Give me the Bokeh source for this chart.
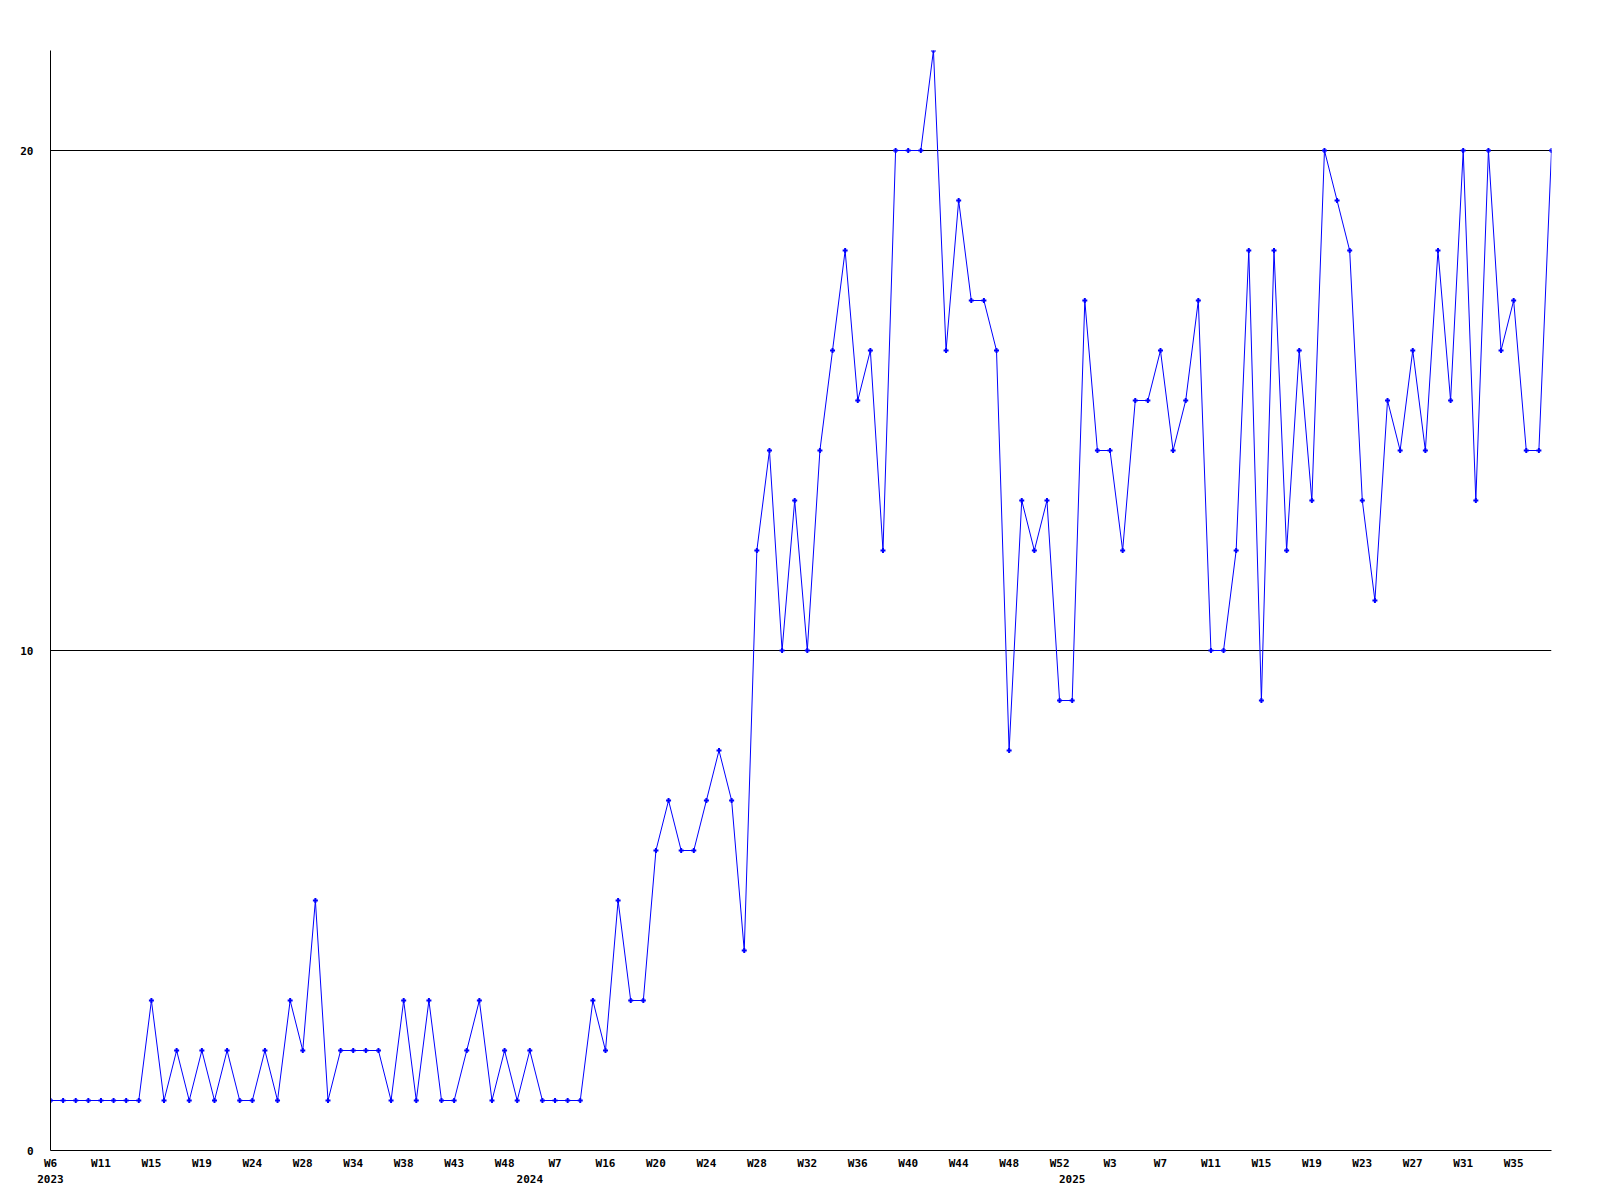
from bokeh.plotting import figure
from bokeh.models import LinearAxis, FixedTicker, Range1d
from bokeh.embed import file_html
from bokeh.resources import INLINE

# Weekly counts (one value per sample, in order)
values = [
    1, 1, 1, 1, 1, 1, 1, 1, 3, 1,
    2, 1, 2, 1, 2, 1, 1, 2, 1, 3,
    2, 5, 1, 2, 2, 2, 2, 1, 3, 1,
    3, 1, 1, 2, 3, 1, 2, 1, 2, 1,
    1, 1, 1, 3, 2, 5, 3, 3, 6, 7,
    6, 6, 7, 8, 7, 4, 12, 14, 10, 13,
    10, 14, 16, 18, 15, 16, 12, 20, 20, 20,
    22, 16, 19, 17, 17, 16, 8, 13, 12, 13,
    9, 9, 17, 14, 14, 12, 15, 15, 16, 14,
    15, 17, 10, 10, 12, 18, 9, 18, 12, 16,
    13, 20, 19, 18, 13, 11, 15, 14, 16, 14,
    18, 15, 20, 13, 20, 16, 17, 14, 14, 20,
]
x_idx = list(range(len(values)))

# Week tick labels (every 4th sample)
week_tick_idx = list(range(0, 120, 4))
week_labels = [
    "W6", "W11", "W15", "W19", "W24", "W28", "W34", "W38", "W43", "W48",
    "W7", "W16", "W20", "W24", "W28", "W32", "W36", "W40", "W44", "W48",
    "W52", "W3", "W7", "W11", "W15", "W19", "W23", "W27", "W31", "W35",
]
# Year labels
year_tick_idx = [0, 38, 81]
year_labels = ["2023", "2024", "2025"]

y_ticks = [0, 10, 20]

FONT = "DejaVu Sans Mono"

p = figure(
    width=1568, height=1192,
    x_range=Range1d(0, len(values) - 1),
    y_range=Range1d(0, 22),
    output_backend="svg", toolbar_location=None,
    min_border_left=50, min_border_top=50, min_border_right=17, min_border_bottom=42,
)
p.outline_line_color = None
p.background_fill_color = "white"
p.border_fill_color = "white"

p.xgrid.grid_line_color = None
p.ygrid.grid_line_color = "black"
p.ygrid.grid_line_width = 1

# y axis
p.yaxis.ticker = FixedTicker(ticks=y_ticks, minor_ticks=[])
p.yaxis.axis_line_color = "black"
p.yaxis.major_tick_line_color = None
p.yaxis.minor_tick_line_color = None
p.yaxis.major_tick_out = 0
p.yaxis.major_tick_in = 0
p.yaxis.major_label_standoff = 17
p.yaxis.major_label_text_font = FONT
p.yaxis.major_label_text_font_style = "bold"
p.yaxis.major_label_text_font_size = "11px"
p.yaxis.major_label_text_color = "black"

# week axis
xa = p.xaxis[0]
xa.ticker = FixedTicker(ticks=week_tick_idx, minor_ticks=[])
xa.major_label_overrides = {i: lab for i, lab in zip(week_tick_idx, week_labels)}
xa.axis_line_color = "black"
xa.major_tick_line_color = None
xa.minor_tick_line_color = None
xa.major_tick_out = 0
xa.major_tick_in = 0
xa.major_label_standoff = 6
xa.major_label_text_font = FONT
xa.major_label_text_font_style = "bold"
xa.major_label_text_font_size = "11px"
xa.major_label_text_color = "black"

# year axis
ya = LinearAxis(
    ticker=FixedTicker(ticks=year_tick_idx, minor_ticks=[]),
    major_label_overrides={i: lab for i, lab in zip(year_tick_idx, year_labels)},
)
ya.axis_line_color = None
ya.major_tick_line_color = None
ya.minor_tick_line_color = None
ya.major_tick_out = 0
ya.major_tick_in = 0
ya.major_label_standoff = 2
ya.major_label_text_font = FONT
ya.major_label_text_font_style = "bold"
ya.major_label_text_font_size = "11px"
ya.major_label_text_color = "black"
p.add_layout(ya, "below")

p.line(x_idx, values, line_color="#0000ff", line_width=1)
p.scatter(x_idx, values, marker="cross", size=5, line_color="#0000ff", line_width=2)

open("out.html", "w").write(file_html(p, INLINE))
